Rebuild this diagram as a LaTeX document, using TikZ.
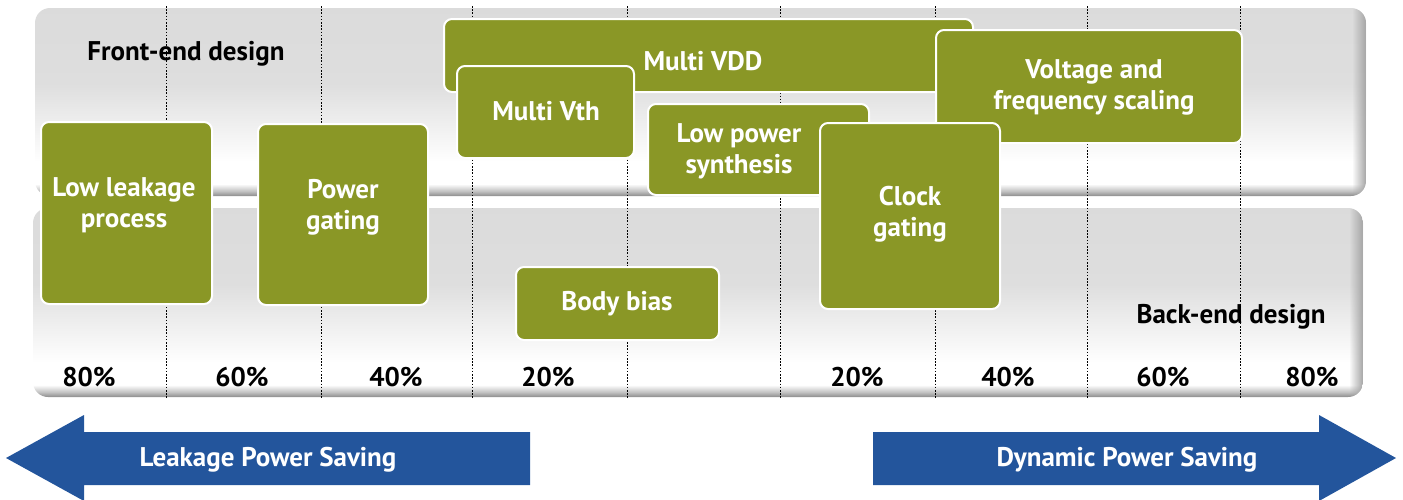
\documentclass[tikz,border=0pt]{standalone}
\usepackage{fontspec}
\setmainfont{PT Sans}
\usetikzlibrary{fadings}
\definecolor{techgreen}{HTML}{8A9726}
\definecolor{saveblue}{HTML}{23559C}
% panel shading: dark bevel at the bottom edge, white band, light grey top
\pgfdeclareverticalshading{panelshade}{100bp}{%
  color(0bp)=(black!45); color(25bp)=(black!45);
  color(26.3bp)=(black!24); color(28.2bp)=(white);
  color(34bp)=(white); color(55bp)=(black!13);
  color(75bp)=(black!14); color(100bp)=(black!14)}
\tikzfading[name=rimfade, left color=transparent!100, right color=transparent!0]
\tikzset{
  panel/.style={shading=panelshade, rounded corners=15pt},
  gridline/.style={black, line width=0.9pt, dash pattern=on 1.6pt off 1.6pt},
  techbox/.style={draw=white, line width=2pt, fill=techgreen, rounded corners=8pt,
    inner sep=0pt, anchor=center},
  techtext/.style={text=white, font=\bfseries\fontsize{27}{31}\selectfont,
    align=center, inner sep=0pt},
  lbl/.style={text=black, font=\bfseries\fontsize{27}{31}\selectfont, inner sep=0pt},
  pct/.style={lbl},
  savearrow/.style={fill=saveblue},
  savetext/.style={text=white, font=\bfseries\fontsize{27}{31}\selectfont, inner sep=0pt},
}
\newcommand{\techbox}[6]{% name, x1, y1, x2, y2, extra
  \node[techbox, minimum width={#4-#2}, minimum height={#5-#3}] (#1)
    at ({(#2+#4)/2},{(#3+#5)/2}) {#6};}
\newcommand{\designpanel}[4]{% x1, y1, x2, y2
  \shade[panel] (#1,#2) rectangle (#3,#4);
  \begin{scope}
    \clip[rounded corners=15pt] (#1,#2) rectangle (#3,#4);
    \fill[black!35, path fading=rimfade] ({#3-14},#2) rectangle (#3,#4);
  \end{scope}}
\begin{document}
\begin{tikzpicture}[x=1pt, y=-1pt]
\useasboundingbox (0,0) rectangle (1403,499);

% the two design panels
\designpanel{35}{8}{1366}{196}
\designpanel{33}{208}{1363}{397}

% dotted grid of the percentage scale
\foreach \gx in {166,321,472,627,780,935,1087,1240}
  \draw[gridline] (\gx,6) -- (\gx,398);

% panel labels
\node[lbl] (frontend) at (186,54) {Front-end design};
\node[lbl] (backend) at (1231,317) {Back-end design};

% percentage scale
\foreach \px/\pv [count=\i] in {89/80,242/60,396/40,548/20,857/20,1008/40,1163/60,1312/80}
  \node[pct] (pct\i) at (\px,377) {\pv\%};

% techniques
\techbox{lowleak}{41}{122}{212}{304}{}
\node[techtext] (lowleak-t) at (124,205) {Low leakage\\process};
\techbox{powergate}{258}{124}{428}{305}{}
\node[techtext] (powergate-t) at (343,207) {Power\\gating};
\techbox{multivdd}{444}{19}{973}{92}{}
\node[techtext] (multivdd-t) at (703,61) {Multi VDD};
\techbox{multivth}{457}{66}{634}{158}{}
\node[techtext] (multivth-t) at (546,111) {Multi Vth};
\techbox{dvfs}{936}{30}{1242}{143}{}
\node[techtext] (dvfs-t) at (1094,87) {Voltage and\\frequency scaling};
\techbox{lps}{648}{104}{869}{195}{}
\node[techtext] (lps-t) at (739,151) {Low power\\synthesis};
\techbox{clockgate}{820}{123}{1000}{309}{}
\node[techtext] (clockgate-t) at (910,214) {Clock\\gating};
\techbox{bodybias}{516}{267}{719}{340}{}
\node[techtext] (bodybias-t) at (617,304) {Body bias};

% saving direction arrows
\fill[savearrow] (6,458) -- (84,415) -- (84,432) -- (530,432) -- (530,485)
  -- (84,485) -- (84,501) -- cycle;
\node[savetext] (leaksave) at (268,460) {Leakage Power Saving};
\fill[savearrow] (1396,458) -- (1319,415) -- (1319,432) -- (873,432) -- (873,485)
  -- (1319,485) -- (1319,501) -- cycle;
\node[savetext] (dynsave) at (1127,460) {Dynamic Power Saving};
\end{tikzpicture}
\end{document}
